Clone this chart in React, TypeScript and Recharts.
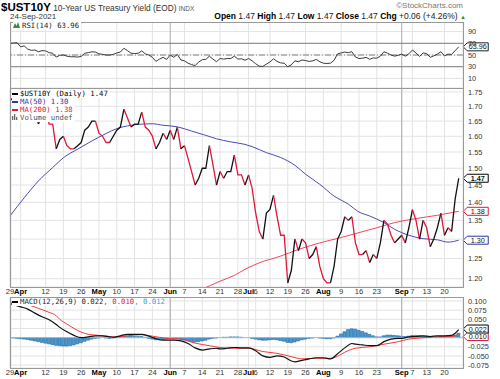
import React from 'react';
import {
  LineChart,
  Line,
  ComposedChart,
  Bar,
  XAxis,
  YAxis,
  CartesianGrid,
  ReferenceLine,
  ReferenceDot
} from 'recharts';

// Daily closes, Mar 29 .. Sep 24 2021 (one per trading day)
const PRICE = [
  1.72, 1.73, 1.74, 1.69, 1.72, 1.70, 1.67, 1.67, 1.64, 1.67,
  1.69, 1.64, 1.64, 1.56, 1.59, 1.60, 1.57, 1.56, 1.56, 1.57,
  1.58, 1.62, 1.63, 1.65, 1.65, 1.61, 1.60, 1.58, 1.58, 1.60,
  1.62, 1.63, 1.69, 1.66, 1.63, 1.64, 1.64, 1.68, 1.63, 1.62,
  1.60, 1.56, 1.58, 1.61, 1.59, 1.62, 1.59, 1.63, 1.56, 1.57,
  1.53, 1.49, 1.45, 1.47, 1.50, 1.50, 1.57, 1.51, 1.45, 1.49,
  1.47, 1.49, 1.49, 1.54, 1.48, 1.48, 1.45, 1.48, 1.44, 1.37,
  1.32, 1.30, 1.37, 1.38, 1.42, 1.36, 1.31, 1.31, 1.19, 1.22,
  1.30, 1.27, 1.30, 1.29, 1.25, 1.26, 1.28, 1.23, 1.20, 1.19,
  1.19, 1.23, 1.30, 1.32, 1.36, 1.35, 1.36, 1.29, 1.26, 1.26,
  1.27, 1.24, 1.26, 1.25, 1.29, 1.35, 1.34, 1.31, 1.29, 1.30,
  1.31, 1.29, 1.33, 1.38, 1.35, 1.30, 1.35, 1.33, 1.28, 1.30,
  1.33, 1.37, 1.31, 1.33, 1.32, 1.41, 1.47
];

const RSI = [
  70, 70.5, 71, 64, 65.5, 60, 58, 58.5, 55.5, 57.5,
  57, 54, 53, 46.5, 49.5, 50, 48, 47, 47, 46.5,
  47.5, 53, 54, 55.5, 55, 52, 51, 50, 50, 51,
  53.5, 55, 61.5, 57.5, 53, 52.5, 53, 57, 52, 50,
  46, 39, 43, 46, 42.5, 50, 46, 51, 41.5, 40,
  36, 33.5, 32, 38, 42, 42.5, 48, 43, 38.5, 44,
  43, 44, 44, 48, 43, 43.5, 41, 44, 40, 35,
  31, 30.5, 34.5, 38, 43.5, 39, 36.5, 36, 30, 33,
  40, 38.5, 41.5, 40.5, 39, 40, 42.5, 38.5, 36, 35.5,
  36, 41, 52, 53.5, 55, 54, 55.6, 46.5, 44, 44.5,
  46, 42.6, 45, 44.5, 48, 55.6, 53, 50, 48, 49.5,
  51.5, 48, 52, 58.5, 53.5, 47.5, 53.5, 52.5, 46, 48.5,
  51.5, 55.6, 48.5, 51.5, 51, 57.5, 63.96
];

const MACD_HIST = [
  0.000, -0.001, -0.002, -0.003, -0.004, -0.005, -0.007, -0.009, -0.011, -0.013,
  -0.015, -0.017, -0.019, -0.021, -0.022, -0.023, -0.023, -0.022, -0.020, -0.017,
  -0.014, -0.010, -0.007, -0.004, -0.002, -0.001, 0.000, -0.001, -0.002, -0.001,
  0.001, 0.002, 0.004, 0.004, 0.004, 0.003, 0.003, 0.003, 0.001, -0.002,
  -0.004, -0.006, -0.006, -0.005, -0.004, -0.003, -0.003, -0.003, -0.005, -0.007,
  -0.009, -0.011, -0.012, -0.011, -0.009, -0.007, -0.004, -0.002, -0.001, 0.000,
  0.001, 0.001, 0.002, 0.002, 0.002, 0.001, 0.000, 0.000, -0.002, -0.004,
  -0.006, -0.007, -0.007, -0.006, -0.005, -0.006, -0.008, -0.010, -0.013, -0.014,
  -0.012, -0.009, -0.006, -0.004, -0.002, -0.001, 0.000, -0.001, -0.002, -0.003,
  -0.003, -0.001, 0.004, 0.010, 0.016, 0.022, 0.024, 0.023, 0.020, 0.017,
  0.013, 0.009, 0.005, 0.002, 0.002, 0.005, 0.007, 0.007, 0.006, 0.005,
  0.004, 0.003, 0.004, 0.006, 0.006, 0.005, 0.004, 0.003, 0.001, 0.000,
  0.001, 0.003, 0.002, 0.002, 0.003, 0.007, 0.012
];

// [trading day, value]
const MA50: [number, number][] = [
  [0, 1.362], [4, 1.413], [8, 1.462], [12, 1.502], [15, 1.532], [19, 1.559],
  [23, 1.585], [27, 1.609], [30, 1.625], [33, 1.634], [36, 1.639], [40, 1.641],
  [43, 1.636], [47, 1.631], [51, 1.617], [55, 1.603], [58, 1.592], [62, 1.582],
  [66, 1.574], [68, 1.567], [72, 1.548], [76, 1.533], [80, 1.509], [83, 1.482],
  [87, 1.452], [91, 1.418], [95, 1.395], [98, 1.373], [101, 1.362], [105, 1.344],
  [108, 1.326], [112, 1.310], [116, 1.301], [120, 1.298], [123, 1.292], [126, 1.297]
];

const MA200: [number, number][] = [
  [54, 1.175], [59, 1.194], [63, 1.208], [66, 1.223], [70, 1.239], [76, 1.256],
  [81, 1.273], [87, 1.290], [93, 1.304], [98, 1.317], [103, 1.330], [108, 1.344],
  [114, 1.355], [120, 1.364], [126, 1.375]
];

const MACD_LINE: [number, number][] = [
  [0, 0.093], [3, 0.084], [5, 0.078], [7, 0.067], [9, 0.057], [11, 0.049],
  [13, 0.036], [14, 0.028], [16, 0.016], [18, 0.006], [20, 0.000], [22, 0.002],
  [24, 0.005], [26, 0.005], [28, 0.002], [29, 0.001], [31, 0.005], [33, 0.009],
  [35, 0.009], [37, 0.009], [39, 0.004], [41, -0.003], [43, -0.007], [46, -0.007],
  [48, -0.009], [50, -0.016], [52, -0.028], [54, -0.034], [56, -0.031], [58, -0.029],
  [59, -0.031], [61, -0.029], [63, -0.027], [65, -0.028], [67, -0.028], [69, -0.036],
  [71, -0.050], [73, -0.054], [75, -0.050], [77, -0.053], [79, -0.064], [80, -0.066],
  [82, -0.062], [84, -0.058], [86, -0.055], [88, -0.055], [90, -0.058], [92, -0.044],
  [94, -0.028], [96, -0.016], [97, -0.018], [99, -0.020], [101, -0.022], [103, -0.022],
  [105, -0.011], [107, -0.004], [109, -0.002], [110, -0.002], [112, 0.002], [114, 0.003],
  [116, 0.005], [118, 0.003], [120, 0.005], [122, 0.005], [124, 0.006], [125, 0.012],
  [126, 0.022]
];

const MACD_SIGNAL: [number, number][] = [
  [0, 0.097], [3, 0.093], [6, 0.087], [8, 0.080], [11, 0.069], [13, 0.060],
  [14, 0.050], [16, 0.037], [18, 0.025], [20, 0.015], [22, 0.009], [24, 0.007],
  [26, 0.005], [28, 0.003], [30, 0.002], [33, 0.005], [37, 0.008], [40, 0.004],
  [44, -0.002], [48, -0.004], [52, -0.015], [56, -0.022], [59, -0.027], [63, -0.029],
  [67, -0.029], [71, -0.038], [75, -0.043], [79, -0.052], [82, -0.058], [86, -0.0565],
  [90, -0.0565], [92, -0.051], [94, -0.040], [97, -0.029], [101, -0.025], [105, -0.018],
  [109, -0.011], [112, -0.004], [116, -0.0005], [120, 0.0025], [124, 0.003], [126, 0.010]
];

const TICK_DAYS = [0, 3, 10, 15, 20, 25, 30, 35, 40, 45, 49, 54, 59, 64, 67, 69, 73, 78, 83, 88, 93, 98, 103, 110, 113, 117, 122];
const TICK_LABELS = ['29', 'Apr', '12', '19', '26', 'May', '10', '17', '24', 'Jun', '7', '14', '21', '28', 'Jul', '6', '12', '19', '26', 'Aug', '9', '16', '23', 'Sep', '7', '13', '20'];
const MONTHS = ['Apr', 'May', 'Jun', 'Jul', 'Aug', 'Sep'];
const QUARTER_DAYS = [45, 110];

const PRICE_TICKS = [1.2, 1.25, 1.3, 1.35, 1.4, 1.45, 1.5, 1.55, 1.6, 1.65, 1.7, 1.75];
const RSI_TICKS = [10, 30, 50, 70, 90];
const MACD_TICKS = [-0.075, -0.05, -0.025, 0, 0.025, 0.05, 0.075, 0.1];
// tick labels that sit under the last-value tags
const PRICE_TICKS_UNDER_TAG = [1.3];
const MACD_TICKS_UNDER_TAG = [0, 0.025];

const X_DOMAIN = [0.3, 127.2];
const LAST = PRICE.length - 1;

const SANS = '"Liberation Sans", Arial, sans-serif';
const MONO = '"DejaVu Sans Mono", monospace';
const GRID = '#e3e3e3';
const RED = '#e0163c';
const MA_RED = '#ec4a5c';
const BLUE = '#4a4ab8';

const toRows = (pts: [number, number][]) => pts.map(([day, v]) => ({ day, v }));
const priceRows = PRICE.map((v, day) => ({ day, v }));
const rsiRows = RSI.map((v, day) => ({ day, v }));
const histRows = MACD_HIST.map((h, day) => ({ day, h }));

// split the close line into up (black) and down (red) runs
const priceRuns: { up: boolean; data: { day: number; v: number }[] }[] = [];
for (let k = 1; k < priceRows.length; k++) {
  const last = priceRuns[priceRuns.length - 1];
  let up = PRICE[k] > PRICE[k - 1];
  if (PRICE[k] === PRICE[k - 1]) up = last ? last.up : true;
  if (last && last.up === up) last.data.push(priceRows[k]);
  else priceRuns.push({ up, data: [priceRows[k - 1], priceRows[k]] });
}

const DayTick = ({ x, y, payload }: any) => {
  const label = TICK_LABELS[TICK_DAYS.indexOf(payload.value)];
  const bold = MONTHS.includes(label);
  return (
    <text x={x} y={y} dy={7.2} textAnchor="middle" fontSize={7.6} fontFamily={SANS}
      fontWeight={bold ? 700 : 400} fill={bold ? '#000' : '#333'}>
      {label}
    </text>
  );
};

const rightTick = (digits: number, skip: number[] = []) => ({ x, y, payload }: any) => {
  if (skip.includes(payload.value)) return <g />;
  return (
    <text x={x + 5} y={y} dy={2.6} fontSize={7.4} fontFamily={SANS} fill="#333">
      {Number(payload.value).toFixed(digits)}
    </text>
  );
};

const tag = (text: string, color: string, bold = false) => ({ cx, cy }: any) => {
  const x0 = cx + 4.5;
  return (
    <g>
      <path d={`M${x0} ${cy} L${x0 + 4} ${cy - 4} H${x0 + 25} V${cy + 4} H${x0 + 4} Z`}
        fill="#fff" stroke={color} strokeWidth={1} />
      <text x={x0 + 14.5} y={cy} dy={2.5} textAnchor="middle" fontSize={7.2} fontFamily={SANS}
        fontWeight={bold ? 700 : 400} fill="#111">{text}</text>
    </g>
  );
};

const Frame = ({ top, height }: { top: number; height: number }) => (
  <div style={{ position: 'absolute', left: 10, top, width: 454, height, border: '1px solid #999', boxSizing: 'border-box', pointerEvents: 'none' }} />
);

const Dash = ({ color }: { color: string }) => (
  <span style={{ display: 'inline-block', width: 6, height: 2, background: color, verticalAlign: 'middle', marginRight: 2, marginTop: -1 }} />
);

const legendLine: React.CSSProperties = { background: '#fff', display: 'inline-block', paddingRight: 2, whiteSpace: 'pre' };

export default function App() {
  return (
    <div style={{ position: 'absolute', left: 0, top: 0, width: 500, height: 379, background: '#fff', overflow: 'hidden', fontFamily: SANS }}>
      {/* header */}
      <div style={{ position: 'absolute', left: 1, top: 0, lineHeight: '11px', whiteSpace: 'nowrap' }}>
        <span style={{ fontSize: 11.5, fontWeight: 700, color: '#000' }}>$UST10Y</span>
        <span style={{ fontSize: 8.3, color: '#333' }}> 10-Year US Treasury Yield (EOD) </span>
        <span style={{ fontSize: 6.5, color: '#555' }}>INDX</span>
      </div>
      <div style={{ position: 'absolute', left: 10, top: 12, fontSize: 8, lineHeight: '9px', color: '#333' }}>24-Sep-2021</div>
      <div style={{ position: 'absolute', right: 37, top: 1.2, fontSize: 8, lineHeight: '10px', color: '#777' }}>©StockCharts.com</div>
      <div style={{ position: 'absolute', right: 34, top: 11.5, fontSize: 8.5, lineHeight: '9px', color: '#222', whiteSpace: 'nowrap' }}>
        <b style={{ color: '#000' }}>Open</b> 1.47 <b style={{ color: '#000' }}>High</b> 1.47 <b style={{ color: '#000' }}>Low</b> 1.47{' '}
        <b style={{ color: '#000' }}>Close</b> 1.47 <b style={{ color: '#000' }}>Chg</b> +0.06 (+4.26%){' '}
        <span style={{ color: '#2a9a2a', fontSize: 6 }}>▲</span>
      </div>

      {/* RSI panel */}
      <div style={{ position: 'absolute', left: 0, top: 22 }}>
        <LineChart width={500} height={66} data={rsiRows} margin={{ top: 0, right: 0, left: 11, bottom: 0 }}>
          <CartesianGrid stroke={GRID} strokeWidth={1} />
          <XAxis dataKey="day" type="number" domain={X_DOMAIN} ticks={TICK_DAYS} allowDataOverflow hide />
          <YAxis orientation="right" width={37} type="number" domain={[-6.4, 106.4]} ticks={RSI_TICKS} interval={0}
            allowDataOverflow axisLine={false} tickLine={false} tickSize={0} tickMargin={0} tick={rightTick(0)} />
          {QUARTER_DAYS.map((d) => <ReferenceLine key={d} x={d} stroke="#aaa" />)}
          <ReferenceLine y={70} stroke="#808080" />
          <ReferenceLine y={30} stroke="#808080" />
          <ReferenceLine y={50} stroke="#808080" strokeDasharray="6 2 1 2" />
          <Line dataKey="v" stroke="#3a3a3a" strokeWidth={1} dot={false} isAnimationActive={false} />
          <ReferenceDot x={LAST} y={RSI[LAST]} shape={tag('63.96', '#222')} />
        </LineChart>
      </div>
      <Frame top={22} height={67} />
      <div style={{ position: 'absolute', left: 13, top: 22, fontFamily: MONO, fontSize: 7.3, lineHeight: '8px', color: '#222' }}>
        <span style={legendLine}>
          <svg width={7} height={6} style={{ marginRight: 2, verticalAlign: 'middle', marginTop: -2 }}>
            <path d="M0 6 L2 1 L3.5 4 L5 0 L7 6 Z" fill="#3a8a3a" />
          </svg>
          RSI(14) 63.96
        </span>
      </div>

      {/* price panel */}
      <div style={{ position: 'absolute', left: 0, top: 88 }}>
        <LineChart width={500} height={209} margin={{ top: 0, right: 0, left: 11, bottom: 0 }}>
          <CartesianGrid stroke={GRID} strokeWidth={1} />
          <XAxis dataKey="day" type="number" domain={X_DOMAIN} ticks={TICK_DAYS} interval={0} allowDataOverflow
            height={10} axisLine={false} tickLine={false} tickSize={0} tickMargin={0} tick={<DayTick />} />
          <YAxis orientation="right" width={37} type="number" scale="log" domain={[1.18, 1.764]} ticks={PRICE_TICKS}
            interval={0} allowDataOverflow axisLine={false} tickLine={false} tickSize={0} tickMargin={0}
            tick={rightTick(2, PRICE_TICKS_UNDER_TAG)} />
          {QUARTER_DAYS.map((d) => <ReferenceLine key={d} x={d} stroke="#aaa" />)}
          <Line data={toRows(MA200)} dataKey="v" type="monotone" stroke={MA_RED} strokeWidth={1} dot={false} isAnimationActive={false} />
          <Line data={toRows(MA50)} dataKey="v" type="monotone" stroke={BLUE} strokeWidth={1} dot={false} isAnimationActive={false} />
          {priceRuns.map((run, k) => (
            <Line key={k} data={run.data} dataKey="v" stroke={run.up ? '#111' : RED} strokeWidth={1.3}
              dot={false} isAnimationActive={false} />
          ))}
          <ReferenceDot x={LAST} y={1.297} shape={tag('1.30', '#3030a8')} />
          <ReferenceDot x={LAST} y={1.375} shape={tag('1.38', RED)} />
          <ReferenceDot x={LAST} y={PRICE[LAST]} shape={tag('1.47', '#000', true)} />
        </LineChart>
      </div>
      <Frame top={88} height={200} />
      <div style={{ position: 'absolute', left: 12, top: 90, fontFamily: MONO, fontSize: 7.3, lineHeight: '8px' }}>
        <div><span style={{ ...legendLine, color: '#000' }}><Dash color="#000" />$UST10Y (Daily) 1.47</span></div>
        <div><span style={{ ...legendLine, color: '#3333b0' }}><Dash color="#3333b0" />MA(50) 1.30</span></div>
        <div><span style={{ ...legendLine, color: RED }}><Dash color={RED} />MA(200) 1.38</span></div>
        <div><span style={{ ...legendLine, color: '#555' }}>
          <svg width={6} height={6} style={{ marginRight: 2, verticalAlign: 'middle', marginTop: -2 }}>
            <rect x={0} y={2} width={1.3} height={4} fill="#666" />
            <rect x={2} y={0} width={1.3} height={6} fill="#666" />
            <rect x={4} y={3} width={1.3} height={3} fill="#666" />
          </svg>
          Volume undef
        </span></div>
      </div>

      {/* MACD panel */}
      <div style={{ position: 'absolute', left: 0, top: 297 }}>
        <ComposedChart width={500} height={82} data={histRows} margin={{ top: 0, right: 0, left: 11, bottom: 0 }}>
          <CartesianGrid stroke={GRID} strokeWidth={1} />
          <XAxis dataKey="day" type="number" domain={X_DOMAIN} ticks={TICK_DAYS} interval={0} allowDataOverflow
            height={11} axisLine={false} tickLine={false} tickSize={0} tickMargin={0} tick={<DayTick />} />
          <YAxis orientation="right" width={37} type="number" domain={[-0.083, 0.111]} ticks={MACD_TICKS} interval={0}
            allowDataOverflow axisLine={false} tickLine={false} tickSize={0} tickMargin={0}
            tick={rightTick(3, MACD_TICKS_UNDER_TAG)} />
          {QUARTER_DAYS.map((d) => <ReferenceLine key={d} x={d} stroke="#aaa" />)}
          <Bar dataKey="h" barSize={3} fill="#4d98cf" stroke="#1f68a0" strokeWidth={0.6} isAnimationActive={false} />
          <ReferenceLine y={0} stroke="#8ec3e6" />
          <Line data={toRows(MACD_SIGNAL)} dataKey="v" type="monotone" stroke="#f03a3a" strokeWidth={1} dot={false} isAnimationActive={false} />
          <Line data={toRows(MACD_LINE)} dataKey="v" type="monotone" stroke="#111" strokeWidth={1.2} dot={false} isAnimationActive={false} />
          <ReferenceDot x={LAST} y={0.003} shape={tag('0.010', RED)} />
          <ReferenceDot x={LAST} y={0.0235} shape={tag('0.022', '#000')} />
        </ComposedChart>
      </div>
      <Frame top={297} height={72} />
      <div style={{ position: 'absolute', left: 12, top: 298, fontFamily: MONO, fontSize: 7.3, lineHeight: '8px', color: '#222' }}>
        <span style={legendLine}>
          <Dash color="#000" />MACD(12,26,9) 0.022<span style={{ color: RED }}>, 0.010</span><span style={{ color: '#3a9ad8' }}>, 0.012</span>
        </span>
      </div>
    </div>
  );
}
